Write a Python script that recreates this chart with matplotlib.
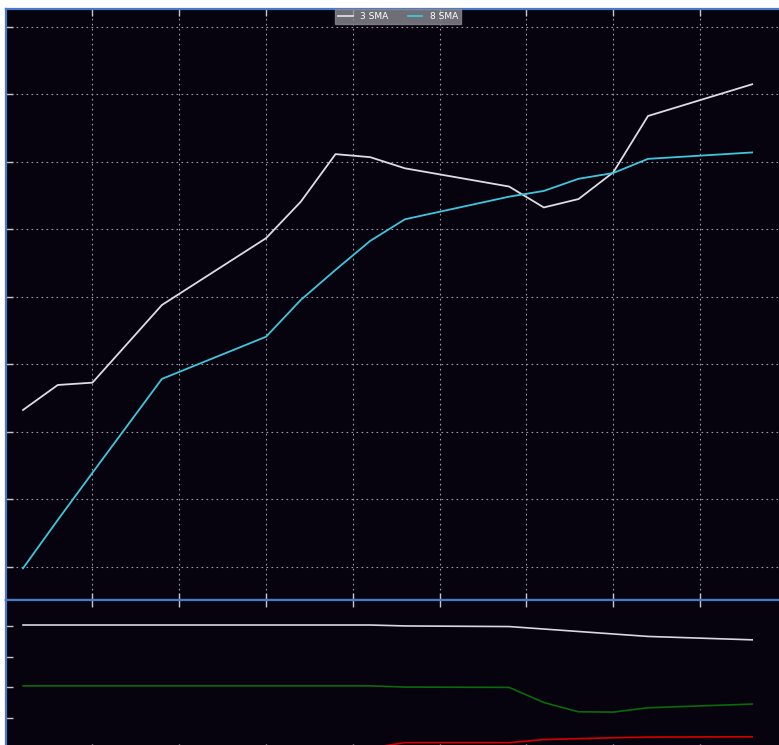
import matplotlib
matplotlib.use("Agg")
import matplotlib.pyplot as plt

# trading days (offset from first session, weekends/holiday skipped)
days = [0, 1, 2, 4, 7, 8, 9, 10, 11, 14, 15, 16, 17, 18, 21]

sma3 = [104.65, 105.39, 105.46, 107.76, 109.74, 110.82, 112.23, 112.14,
        111.81, 111.27, 110.65, 110.90, 111.69, 113.36, 114.30]
sma8 = [99.96, 101.39, 102.79, 105.57, 106.82, 107.91, 108.80, 109.66,
        110.30, 110.97, 111.14, 111.50, 111.67, 112.09, 112.28]

ind_white = [3.02, 3.02, 3.02, 3.02, 3.02, 3.02, 3.02, 3.02,
             2.99, 2.97, 2.89, 2.81, 2.73, 2.65, 2.54]
ind_green = [1.05, 1.05, 1.05, 1.05, 1.05, 1.05, 1.05, 1.05,
             1.01, 1.00, 0.51, 0.21, 0.20, 0.34, 0.46]
ind_red = [-0.96, -0.96, -0.96, -0.96, -0.96, -0.96, -0.96, -0.96,
           -0.79, -0.79, -0.69, -0.66, -0.63, -0.61, -0.60]

xticks = [2, 4.5, 7, 9.5, 12, 14.5, 17, 19.5, 22]

bg = "#07030e"
spine_col = "#4a78c4"
tick_col = "#c8c8cc"

fig = plt.figure(figsize=(7.79, 7.45), dpi=100, facecolor="white")
W, H = 779, 745
ax1 = fig.add_axes([6 / W, 1 - 600 / H, 784 / W, 591 / H])
ax2 = fig.add_axes([6 / W, 1 - 751 / H, 784 / W, 151 / H], sharex=ax1)

for ax in (ax1, ax2):
    ax.set_facecolor(bg)
    for s in ax.spines.values():
        s.set_color(spine_col)
        s.set_linewidth(1.6)
    ax.tick_params(direction="in", colors=tick_col, length=5, width=1,
                   top=True, bottom=True, left=True, right=True,
                   labelleft=False, labelbottom=False)
    ax.set_xticks(xticks)

ax1.plot(days, sma3, color="#dcdce4", lw=1.3, label="3 SMA")
ax1.plot(days, sma8, color="#3ec6dc", lw=1.3, label="8 SMA")
ax1.set_xlim(-0.49, 22.09)
ax1.set_ylim(99.02, 116.53)
ax1.set_yticks(range(100, 117, 2))
ax1.grid(True, color="#9a9aa0", linestyle=(0, (1.5, 3)), linewidth=0.8)

leg = ax1.legend(loc="upper center", bbox_to_anchor=(0.5, 1.0), ncol=2,
                 fontsize=6.5, frameon=True, fancybox=False, borderaxespad=0,
                 handlelength=1.6, columnspacing=2.2, borderpad=0.35,
                 labelcolor="white")
leg.get_frame().set_facecolor("#8a8a92")
leg.get_frame().set_edgecolor("#8a8a92")
leg.get_frame().set_alpha(0.8)

ax2.plot(days, ind_white, color="#d8d8de", lw=1.2)
ax2.plot(days, ind_green, color="#0a6a0a", lw=1.2)
ax2.plot(days, ind_red, color="#d40000", lw=1.2)
ax2.set_ylim(-1.06, 3.83)
ax2.set_yticks([0, 1, 2, 3])

fig.savefig("out.png", dpi=100, facecolor="white")
